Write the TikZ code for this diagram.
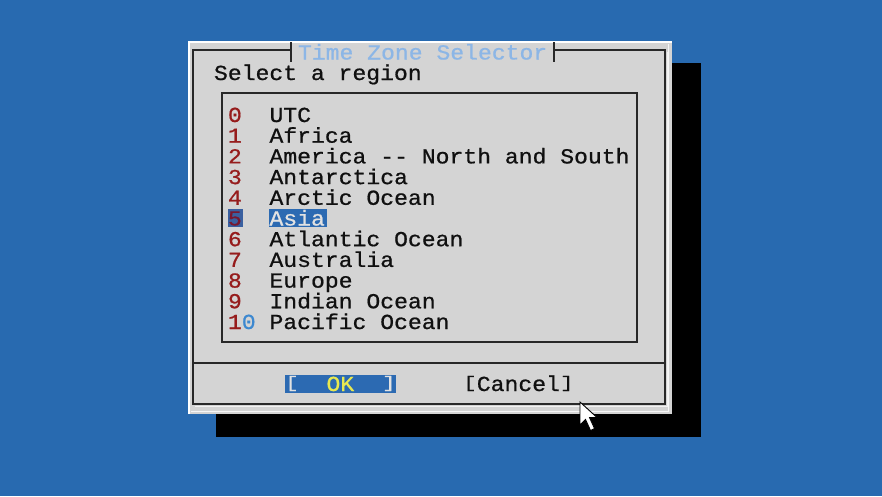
\documentclass[tikz,border=0pt]{standalone}
\usepackage{fontspec}
\usepackage{graphicx}
\newfontfamily\tuifam[FakeBold=0.7]{Liberation Mono}
\definecolor{deskblue}{RGB}{40,106,176}
\definecolor{dlggray}{RGB}{212,212,212}
\definecolor{framedark}{RGB}{40,40,40}
\definecolor{numred}{RGB}{150,28,28}
\definecolor{numblue}{RGB}{60,136,208}
\definecolor{titleblue}{RGB}{140,182,230}
\definecolor{selblue}{RGB}{44,106,178}
\definecolor{selnum}{RGB}{58,96,160}
\definecolor{seltext}{RGB}{226,226,226}
\definecolor{okyellow}{RGB}{232,232,80}
\definecolor{tuiblack}{RGB}{16,16,16}
\newcommand\tx[1]{\scalebox{1.282}[1.19]{#1}}
\newcommand\shortbr[1]{\raisebox{2.8pt}{\scalebox{1}[0.76]{#1}}}
\tikzset{
  tuitext/.style={inner sep=0pt, outer sep=0pt, anchor=base west, font={\tuifam\fontsize{18}{19}\selectfont}, text=tuiblack},
  numtext/.style={tuitext, text=numred},
  frameline/.style={draw=framedark, line width=1.4pt},
  lightline/.style={draw=white, line width=1.2pt},
}
\begin{document}
\begin{tikzpicture}[x=1pt,y=-1pt]
\path[use as bounding box, fill=deskblue] (0,0) rectangle (882,496);
% shadow
\fill[black] (216,63) rectangle (701,437);
% dialog
\fill[dlggray] (188,41) rectangle (672,414);
\draw[lightline] (189,414) -- (189,42) -- (672,42);
\draw[draw=white!80!dlggray, line width=1pt] (668,44) -- (668,411) -- (191,411);
% inner frame with title gap
\draw[frameline] (283,50) -- (193,50) -- (193,404) -- (665,404) -- (665,50) -- (561,50);
\draw[draw=white!70!dlggray, line width=1pt] (667,52) -- (667,406) -- (195,406);
\coordinate (tl) at (291,42);
\coordinate (tlb) at (291,62);
\coordinate (tr) at (554,42);
\coordinate (trb) at (554,62);
\draw[frameline] (283,50) -- (291,50);
\draw[frameline] (tl) -- (tlb);
\draw[frameline] (554,50) -- (561,50);
\draw[frameline] (tr) -- (trb);
% separator
\draw[frameline] (193,363) -- (665,363);
% list box
\draw[frameline] (222,93) rectangle (637,342);
% title and prompt
\node[tuitext, text=titleblue] (title) at (298,59.5) {\tx{Time Zone Selector}};
\node[tuitext] (prompt) at (214,80) {\tx{Select a region}};
% selection highlights
\fill[selnum] (228,209) rectangle (243,227);
\fill[selblue] (269,209) rectangle (327,227);
% list rows
\foreach \n/\t [count=\i from 0] in {0/UTC,1/Africa,2/America -- North and South,3/Antarctica,4/Arctic Ocean,5/Asia,6/Atlantic Ocean,7/Australia,8/Europe,9/Indian Ocean}{
  \ifnum\i=5
    \node[numtext, text={rgb,255:red,120;green,24;blue,48}] (num\i) at (228,{122+20.7*\i}) {\tx{\n}};
    \node[tuitext, text=seltext] (item\i) at (269.5,{122+20.7*\i}) {\tx{\t}};
  \else
    \node[numtext] (num\i) at (228,{122+20.7*\i}) {\tx{\n}};
    \node[tuitext] (item\i) at (269.5,{122+20.7*\i}) {\tx{\t}};
  \fi
}
\node[tuitext] (num10) at (228,329) {\tx{\textcolor{numred}{1}\textcolor{numblue}{0}}};
\node[tuitext] (item10) at (269.5,329) {\tx{Pacific Ocean}};
% buttons
\fill[selblue] (285,375) rectangle (396,393);
\node[tuitext, text=seltext] (okl) at (285,391) {\tx{\shortbr{[}}};
\node[tuitext, text=okyellow] (ok) at (326.5,391) {\tx{OK}};
\node[tuitext, text=seltext] (okr) at (382,391) {\tx{\shortbr{]}}};
\node[tuitext] (cancel) at (463,391) {\tx{\shortbr{[}Cancel\shortbr{]}}};
% mouse cursor
\draw[fill=white, draw=black, line width=0.9pt, line join=miter]
  (580,402) -- (580,425) -- (585.5,419.5) -- (590.5,430.5) -- (594.5,428.5) -- (589.5,417.5) -- (597,417.5) -- cycle;
\end{tikzpicture}
\end{document}
